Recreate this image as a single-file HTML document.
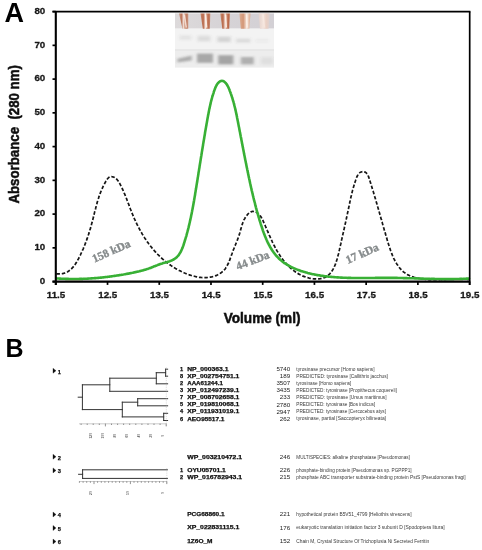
<!DOCTYPE html>
<html><head><meta charset="utf-8"><title>Figure</title>
<style>
html,body{margin:0;padding:0;background:#fff;}
body{width:482px;height:550px;overflow:hidden;font-family:"Liberation Sans",sans-serif;}
svg{display:block;}
text{font-family:"Liberation Sans",sans-serif;}
.b{font-weight:bold;}
.kda{font-family:"Liberation Serif",serif;font-weight:bold;font-size:11.5px;fill:#868b8c;stroke:#868b8c;stroke-width:0.35px;}
.acc{font-weight:bold;font-size:5.6px;fill:#111;stroke:#111;stroke-width:0.25px;}
.num{font-size:6.2px;fill:#222;}
.desc{font-size:4.6px;fill:#3a3a3a;}
.tk{font-weight:bold;font-size:9.5px;fill:#1a1a1a;stroke:#1a1a1a;stroke-width:0.3px;stroke-linejoin:round;}
</style></head><body>
<svg width="482" height="550" viewBox="0 0 482 550">
<defs>
<filter id="bl" x="-10%" y="-10%" width="120%" height="120%"><feGaussianBlur stdDeviation="0.7"/></filter>
<filter id="bl2" x="-10%" y="-10%" width="120%" height="120%"><feGaussianBlur stdDeviation="1.5 1.0"/></filter>
<filter id="bl3" x="-50%" y="-10%" width="200%" height="120%"><feGaussianBlur stdDeviation="0.45"/></filter>
<filter id="soft" x="0" y="0" width="482" height="550" filterUnits="userSpaceOnUse"><feGaussianBlur stdDeviation="0.55"/></filter>
</defs>
<rect width="482" height="550" fill="#fff"/>
<g filter="url(#soft)">

<text x="4.6" y="22.4" class="b" font-size="27" fill="#000">A</text>
<text x="5.5" y="356.6" class="b" font-size="25" fill="#000">B</text>
<g id="gel">
<defs>
<linearGradient id="tg" x1="0" x2="1" y1="0" y2="0"><stop offset="0" stop-color="#c98a6c"/><stop offset="0.28" stop-color="#b8684a"/><stop offset="0.5" stop-color="#f6e4da"/><stop offset="0.62" stop-color="#d08e70"/><stop offset="0.85" stop-color="#b9694b"/><stop offset="1" stop-color="#cf9a82"/></linearGradient>
<linearGradient id="tg2" x1="0" x2="1" y1="0" y2="0"><stop offset="0" stop-color="#dcae94"/><stop offset="0.35" stop-color="#d39676"/><stop offset="0.65" stop-color="#f6e6dc"/><stop offset="1" stop-color="#dba98e"/></linearGradient>
<linearGradient id="tg3" x1="0" x2="1" y1="0" y2="0"><stop offset="0" stop-color="#e4d2cc"/><stop offset="0.4" stop-color="#f3e4dc"/><stop offset="0.7" stop-color="#ead0c4"/><stop offset="1" stop-color="#ddd0cf"/></linearGradient>
<linearGradient id="bgt" x1="0" x2="1" y1="0" y2="0"><stop offset="0" stop-color="#dddadb"/><stop offset="0.5" stop-color="#d6d3d6"/><stop offset="1" stop-color="#d3d0d5"/></linearGradient>
</defs>
<rect x="174.9" y="13.4" width="99.1" height="15.3" fill="url(#bgt)"/>
<rect x="174.9" y="28.6" width="99.1" height="21.2" fill="#f3f3f3"/>
<rect x="174.9" y="49.6" width="99.1" height="18" fill="#ededed"/>
<rect x="174.9" y="49.4" width="99.1" height="1.1" fill="#e2e2e2"/>
<g filter="url(#bl)">
<path d="M179.0 13.4L188.3 13.4L188.3 28.8L182.5 28.8Z" fill="url(#tg)" opacity="0.85"/>
<path d="M200.5 13.4L210.4 13.4L209.8 28.8L202.8 28.8Z" fill="url(#tg)" opacity="1.00"/>
<path d="M220.3 13.4L230.1 13.4L229.3 28.8L222.3 28.8Z" fill="url(#tg)" opacity="1.00"/>
<path d="M239.4 13.4L250.5 13.4L249.3 28.8L240.8 28.8Z" fill="url(#tg2)" opacity="1.00"/>
<path d="M258.6 13.4L269.7 13.4L268.6 28.8L260.0 28.8Z" fill="url(#tg3)" opacity="1.00"/>
</g>
<g filter="url(#bl3)">
<path d="M184.3 14.5L186.3 27.6" stroke="#fff3ec" stroke-width="1.5" opacity="0.75"/>
<path d="M205.6 14.5L206.6 27.6" stroke="#fff3ec" stroke-width="1.5" opacity="0.90"/>
<path d="M225.6 14.5L226.3 27.6" stroke="#fff3ec" stroke-width="1.5" opacity="0.90"/>
<path d="M246.6 14.5L247.2 27.6" stroke="#fff3ec" stroke-width="1.5" opacity="0.70"/>
<path d="M263.0 14.5L264.5 27.6" stroke="#fff3ec" stroke-width="1.5" opacity="0.40"/>
</g>
<g filter="url(#bl2)">
<rect x="179.6" y="35.3" width="11.6" height="4.6" fill="#555" opacity="0.10"/>
<rect x="197.6" y="35.8" width="12.8" height="5.6" fill="#555" opacity="0.15"/>
<rect x="217.5" y="36.6" width="13.2" height="5.6" fill="#555" opacity="0.20"/>
<rect x="236.0" y="38.5" width="14.5" height="4.2" fill="#555" opacity="0.14"/>
<rect x="255.7" y="39.3" width="12.8" height="3.0" fill="#555" opacity="0.05"/>
<rect x="197.0" y="53.6" width="16.0" height="9.2" fill="#555" opacity="0.46"/>
<rect x="218.2" y="55.2" width="15.2" height="9.2" fill="#555" opacity="0.48"/>
<rect x="240.8" y="57.0" width="13.0" height="7.4" fill="#555" opacity="0.40"/>
<rect x="261.0" y="57.5" width="12.0" height="6.8" fill="#555" opacity="0.10"/>
<path d="M177.4 58.8L191.8 55.4L191.8 60.6L177.4 62.6Z" fill="#555" opacity="0.42"/>
</g>
<rect x="274" y="12.4" width="6" height="57" fill="#fff"/><rect x="168" y="12.4" width="6.9" height="57" fill="#fff"/>
</g>
<path d="M56.4 273.8C56.7 273.8 57.4 273.9 57.9 273.9C58.4 273.9 58.9 273.9 59.4 273.9C59.9 273.9 60.3 273.9 60.8 273.9C61.2 273.8 61.7 273.8 62.1 273.7C62.5 273.6 63.0 273.5 63.4 273.4C63.8 273.3 64.2 273.2 64.6 273.1C65.0 272.9 65.4 272.8 65.7 272.6C66.1 272.5 66.5 272.3 66.8 272.1C67.2 272.0 67.6 271.8 67.9 271.6C68.2 271.4 68.6 271.1 68.9 270.9C69.2 270.7 69.6 270.4 69.9 270.2C70.2 270.0 70.5 269.7 70.8 269.4C71.1 269.2 71.4 268.9 71.7 268.6C72.0 268.3 72.2 268.0 72.5 267.7C72.8 267.4 73.1 267.1 73.3 266.8C73.6 266.5 73.8 266.2 74.1 265.9C74.3 265.5 74.6 265.2 74.8 264.9C75.1 264.5 75.3 264.2 75.5 263.8C75.8 263.5 76.0 263.1 76.2 262.8C76.4 262.4 76.7 262.0 76.9 261.7C77.1 261.3 77.3 260.9 77.5 260.6C77.7 260.2 77.9 259.8 78.1 259.4C78.3 259.1 78.5 258.7 78.7 258.3C78.9 257.9 79.1 257.5 79.3 257.2C79.5 256.8 79.7 256.4 79.9 256.0C80.1 255.6 80.3 255.2 80.5 254.9C80.6 254.5 80.8 254.1 81.0 253.7C81.2 253.3 81.4 252.9 81.5 252.5C81.7 252.2 81.9 251.8 82.1 251.4C82.2 251.0 82.4 250.6 82.6 250.2C82.7 249.8 82.9 249.4 83.1 249.1C83.3 248.7 83.4 248.3 83.6 247.9C83.7 247.5 83.9 247.1 84.1 246.7C84.2 246.3 84.4 245.9 84.5 245.6C84.7 245.2 84.8 244.8 85.0 244.4C85.2 244.0 85.3 243.6 85.5 243.2C85.6 242.8 85.8 242.4 85.9 242.0C86.1 241.6 86.2 241.2 86.3 240.9C86.5 240.5 86.6 240.1 86.8 239.7C86.9 239.3 87.0 238.9 87.2 238.5C87.3 238.1 87.5 237.7 87.6 237.3C87.7 236.9 87.9 236.5 88.0 236.1C88.1 235.7 88.3 235.3 88.4 234.9C88.5 234.5 88.7 234.1 88.8 233.7C88.9 233.3 89.0 232.9 89.2 232.5C89.3 232.1 89.4 231.7 89.5 231.3C89.7 230.9 89.8 230.5 89.9 230.1C90.0 229.7 90.1 229.3 90.3 228.9C90.4 228.5 90.5 228.1 90.6 227.7C90.7 227.3 90.8 226.9 90.9 226.5C91.1 226.1 91.2 225.7 91.3 225.3C91.4 224.9 91.5 224.5 91.6 224.1C91.7 223.7 91.8 223.3 91.9 222.9C92.1 222.5 92.2 222.1 92.3 221.7C92.4 221.3 92.5 220.8 92.6 220.4C92.7 220.0 92.8 219.6 92.9 219.2C93.0 218.8 93.1 218.4 93.2 218.0C93.3 217.6 93.4 217.2 93.5 216.8C93.6 216.3 93.7 215.9 93.8 215.5C93.9 215.1 94.0 214.7 94.1 214.3C94.2 213.9 94.3 213.5 94.4 213.1C94.5 212.7 94.6 212.3 94.7 211.8C94.8 211.4 94.9 211.0 95.0 210.6C95.1 210.2 95.2 209.8 95.4 209.4C95.5 209.0 95.6 208.6 95.7 208.2C95.8 207.7 95.9 207.3 96.0 206.9C96.1 206.5 96.2 206.1 96.3 205.7C96.4 205.3 96.5 204.9 96.7 204.5C96.8 204.1 96.9 203.7 97.0 203.3C97.1 202.9 97.2 202.5 97.3 202.0C97.5 201.6 97.6 201.2 97.7 200.8C97.8 200.4 97.9 200.0 98.1 199.6C98.2 199.2 98.3 198.8 98.5 198.4C98.6 198.0 98.7 197.6 98.8 197.2C99.0 196.8 99.1 196.4 99.2 196.0C99.4 195.6 99.5 195.2 99.7 194.8C99.8 194.4 99.9 194.0 100.1 193.6C100.2 193.2 100.4 192.9 100.5 192.5C100.7 192.1 100.9 191.7 101.0 191.3C101.2 190.9 101.3 190.5 101.5 190.1C101.7 189.7 101.8 189.3 102.0 189.0C102.2 188.6 102.3 188.2 102.5 187.8C102.7 187.4 102.9 187.0 103.0 186.7C103.2 186.3 103.4 185.9 103.6 185.5C103.8 185.1 104.0 184.8 104.2 184.4C104.4 184.0 104.6 183.6 104.8 183.3C105.0 182.9 105.2 182.5 105.4 182.1C105.6 181.8 105.8 181.4 106.1 181.0C106.3 180.7 106.5 180.3 106.7 179.9C107.0 179.6 107.2 179.2 107.4 178.9C107.7 178.6 107.9 178.3 108.2 178.0C108.5 177.7 108.8 177.5 109.1 177.3C109.4 177.1 109.7 176.9 110.0 176.8C110.4 176.7 110.7 176.6 111.1 176.6C111.5 176.6 111.9 176.6 112.3 176.7C112.6 176.8 113.0 176.9 113.4 177.0C113.8 177.2 114.2 177.4 114.6 177.6C114.9 177.8 115.3 178.0 115.6 178.3C116.0 178.5 116.3 178.8 116.6 179.1C116.9 179.4 117.2 179.7 117.4 180.0C117.7 180.3 117.9 180.7 118.2 181.0C118.4 181.4 118.7 181.8 118.9 182.1C119.1 182.5 119.3 182.9 119.5 183.2C119.7 183.6 120.0 184.0 120.2 184.4C120.4 184.8 120.6 185.2 120.8 185.5C120.9 185.9 121.1 186.3 121.3 186.7C121.5 187.1 121.7 187.5 121.9 187.9C122.1 188.3 122.3 188.6 122.4 189.0C122.6 189.4 122.8 189.8 123.0 190.2C123.2 190.6 123.3 191.0 123.5 191.4C123.7 191.8 123.8 192.1 124.0 192.5C124.2 192.9 124.3 193.3 124.5 193.7C124.7 194.1 124.8 194.5 125.0 194.9C125.2 195.3 125.3 195.7 125.5 196.1C125.6 196.5 125.8 196.9 125.9 197.2C126.1 197.6 126.3 198.0 126.4 198.4C126.6 198.8 126.7 199.2 126.9 199.6C127.0 200.0 127.2 200.4 127.3 200.8C127.5 201.2 127.6 201.6 127.8 202.0C127.9 202.4 128.1 202.8 128.2 203.2C128.4 203.5 128.5 203.9 128.7 204.3C128.8 204.7 129.0 205.1 129.1 205.5C129.3 205.9 129.4 206.3 129.6 206.7C129.7 207.1 129.8 207.5 130.0 207.9C130.1 208.3 130.3 208.7 130.4 209.1C130.6 209.4 130.7 209.8 130.9 210.2C131.1 210.6 131.2 211.0 131.4 211.4C131.5 211.8 131.7 212.2 131.8 212.6C132.0 213.0 132.1 213.4 132.3 213.7C132.4 214.1 132.6 214.5 132.8 214.9C132.9 215.3 133.1 215.7 133.2 216.1C133.4 216.5 133.6 216.8 133.7 217.2C133.9 217.6 134.1 218.0 134.2 218.4C134.4 218.8 134.6 219.2 134.8 219.5C134.9 219.9 135.1 220.3 135.3 220.7C135.5 221.1 135.6 221.5 135.8 221.8C136.0 222.2 136.2 222.6 136.4 223.0C136.5 223.3 136.7 223.7 136.9 224.1C137.1 224.5 137.3 224.9 137.5 225.2C137.7 225.6 137.8 226.0 138.0 226.4C138.2 226.7 138.4 227.1 138.6 227.5C138.8 227.8 139.0 228.2 139.2 228.6C139.4 229.0 139.6 229.3 139.8 229.7C140.0 230.1 140.2 230.4 140.4 230.8C140.6 231.2 140.8 231.5 141.0 231.9C141.2 232.3 141.4 232.6 141.7 233.0C141.9 233.3 142.1 233.7 142.3 234.1C142.5 234.4 142.7 234.8 142.9 235.1C143.2 235.5 143.4 235.9 143.6 236.2C143.8 236.6 144.0 236.9 144.3 237.3C144.5 237.6 144.7 238.0 144.9 238.3C145.2 238.7 145.4 239.0 145.6 239.4C145.9 239.7 146.1 240.1 146.3 240.4C146.6 240.7 146.8 241.1 147.0 241.4C147.3 241.8 147.5 242.1 147.8 242.5C148.0 242.8 148.3 243.1 148.5 243.5C148.8 243.8 149.0 244.1 149.2 244.5C149.5 244.8 149.8 245.1 150.0 245.5C150.3 245.8 150.5 246.1 150.8 246.4C151.0 246.8 151.3 247.1 151.5 247.4C151.8 247.7 152.1 248.1 152.3 248.4C152.6 248.7 152.9 249.0 153.1 249.3C153.4 249.7 153.7 250.0 154.0 250.3C154.2 250.6 154.5 250.9 154.8 251.2C155.0 251.5 155.3 251.8 155.6 252.1C155.9 252.4 156.2 252.8 156.5 253.1C156.7 253.4 157.0 253.7 157.3 254.0C157.6 254.3 157.9 254.6 158.2 254.8C158.5 255.1 158.8 255.4 159.1 255.7C159.4 256.0 159.7 256.3 160.0 256.6C160.3 256.9 160.6 257.2 160.9 257.4C161.2 257.7 161.5 258.0 161.8 258.3C162.1 258.6 162.4 258.8 162.7 259.1C163.0 259.4 163.3 259.7 163.7 259.9C164.0 260.2 164.3 260.5 164.6 260.7C164.9 261.0 165.3 261.3 165.6 261.5C165.9 261.8 166.2 262.1 166.6 262.3C166.9 262.6 167.2 262.8 167.6 263.1C167.9 263.3 168.2 263.6 168.6 263.8C168.9 264.1 169.2 264.3 169.6 264.6C169.9 264.8 170.3 265.0 170.6 265.3C171.0 265.5 171.3 265.8 171.7 266.0C172.0 266.2 172.4 266.5 172.7 266.7C173.1 266.9 173.4 267.1 173.8 267.4C174.1 267.6 174.5 267.8 174.9 268.0C175.2 268.3 175.6 268.5 176.0 268.7C176.3 268.9 176.7 269.1 177.1 269.3C177.5 269.5 177.8 269.7 178.2 269.9C178.6 270.1 179.0 270.3 179.3 270.5C179.7 270.7 180.1 270.9 180.5 271.1C180.9 271.3 181.3 271.5 181.7 271.7C182.0 271.9 182.4 272.1 182.8 272.2C183.2 272.4 183.6 272.6 184.0 272.8C184.4 272.9 184.8 273.1 185.2 273.3C185.6 273.4 186.0 273.6 186.4 273.8C186.8 273.9 187.3 274.1 187.7 274.2C188.1 274.4 188.5 274.5 188.9 274.7C189.3 274.8 189.7 275.0 190.1 275.1C190.5 275.2 190.9 275.4 191.4 275.5C191.8 275.6 192.2 275.7 192.6 275.9C193.0 276.0 193.4 276.1 193.9 276.2C194.3 276.3 194.7 276.4 195.1 276.5C195.5 276.6 196.0 276.7 196.4 276.8C196.8 276.8 197.2 276.9 197.6 277.0C198.0 277.1 198.5 277.1 198.9 277.2C199.3 277.3 199.7 277.3 200.1 277.4C200.6 277.4 201.0 277.5 201.4 277.5C201.8 277.5 202.2 277.6 202.7 277.6C203.1 277.6 203.5 277.6 203.9 277.6C204.3 277.6 204.7 277.6 205.1 277.6C205.6 277.6 206.0 277.6 206.4 277.6C206.8 277.6 207.2 277.6 207.6 277.5C208.0 277.5 208.4 277.4 208.8 277.4C209.2 277.3 209.6 277.3 210.1 277.2C210.5 277.2 210.9 277.1 211.3 277.0C211.7 276.9 212.1 276.8 212.4 276.7C212.8 276.6 213.2 276.5 213.6 276.4C214.0 276.3 214.4 276.2 214.8 276.0C215.2 275.9 215.5 275.8 215.9 275.6C216.3 275.5 216.7 275.3 217.0 275.2C217.4 275.0 217.8 274.8 218.1 274.6C218.5 274.4 218.8 274.2 219.2 274.0C219.5 273.8 219.9 273.6 220.2 273.4C220.5 273.2 220.9 273.0 221.2 272.7C221.5 272.5 221.8 272.2 222.1 272.0C222.4 271.7 222.7 271.4 223.0 271.2C223.3 270.9 223.6 270.6 223.9 270.3C224.2 270.0 224.4 269.7 224.7 269.4C225.0 269.1 225.2 268.8 225.5 268.4C225.7 268.1 225.9 267.7 226.2 267.4C226.4 267.0 226.6 266.7 226.8 266.3C227.0 265.9 227.2 265.6 227.4 265.2C227.6 264.8 227.8 264.4 228.0 264.0C228.2 263.6 228.4 263.2 228.6 262.8C228.8 262.4 228.9 262.0 229.1 261.6C229.3 261.2 229.4 260.8 229.6 260.3C229.8 259.9 229.9 259.5 230.1 259.1C230.2 258.7 230.4 258.2 230.5 257.8C230.7 257.4 230.8 257.0 231.0 256.6C231.1 256.1 231.3 255.7 231.4 255.3C231.6 254.9 231.7 254.5 231.9 254.0C232.0 253.6 232.1 253.2 232.3 252.8C232.4 252.4 232.6 252.0 232.7 251.6C232.9 251.2 233.0 250.8 233.2 250.4C233.3 250.0 233.5 249.6 233.6 249.3C233.8 248.9 234.0 248.5 234.1 248.1C234.3 247.7 234.4 247.3 234.6 247.0C234.7 246.6 234.9 246.2 235.0 245.8C235.2 245.5 235.3 245.1 235.5 244.7C235.6 244.4 235.8 244.0 235.9 243.6C236.1 243.2 236.2 242.9 236.4 242.5C236.5 242.1 236.7 241.8 236.8 241.4C237.0 241.0 237.1 240.6 237.3 240.3C237.4 239.9 237.6 239.5 237.7 239.1C237.8 238.7 238.0 238.4 238.1 238.0C238.3 237.6 238.4 237.2 238.5 236.8C238.7 236.4 238.8 236.1 238.9 235.7C239.1 235.3 239.2 234.9 239.3 234.5C239.4 234.1 239.5 233.7 239.7 233.3C239.8 232.9 239.9 232.4 240.0 232.0C240.1 231.6 240.3 231.2 240.4 230.8C240.5 230.4 240.6 230.0 240.7 229.5C240.8 229.1 241.0 228.7 241.1 228.3C241.2 227.9 241.3 227.4 241.4 227.0C241.6 226.6 241.7 226.2 241.8 225.8C242.0 225.3 242.1 224.9 242.2 224.5C242.4 224.1 242.5 223.7 242.6 223.3C242.8 222.9 242.9 222.5 243.1 222.1C243.3 221.7 243.4 221.3 243.6 220.9C243.8 220.5 243.9 220.1 244.1 219.7C244.3 219.3 244.5 218.9 244.7 218.6C244.9 218.2 245.1 217.8 245.3 217.5C245.6 217.1 245.8 216.8 246.0 216.4C246.3 216.1 246.5 215.7 246.8 215.4C247.1 215.1 247.3 214.7 247.6 214.4C247.9 214.1 248.2 213.8 248.5 213.5C248.8 213.2 249.1 213.0 249.5 212.7C249.8 212.5 250.1 212.2 250.5 212.1C250.8 211.9 251.2 211.7 251.6 211.6C251.9 211.5 252.3 211.4 252.7 211.4C253.1 211.4 253.5 211.4 253.9 211.5C254.2 211.5 254.6 211.6 255.0 211.7C255.4 211.8 255.7 212.0 256.1 212.2C256.5 212.3 256.8 212.5 257.1 212.7C257.5 213.0 257.8 213.2 258.1 213.5C258.4 213.7 258.7 214.0 259.0 214.3C259.2 214.6 259.5 214.9 259.8 215.2C260.0 215.5 260.3 215.9 260.5 216.2C260.7 216.5 261.0 216.9 261.2 217.3C261.4 217.6 261.6 218.0 261.8 218.4C262.0 218.8 262.2 219.2 262.4 219.6C262.6 219.9 262.8 220.3 263.0 220.7C263.2 221.1 263.4 221.6 263.6 222.0C263.7 222.4 263.9 222.8 264.1 223.2C264.3 223.6 264.5 224.0 264.6 224.4C264.8 224.8 265.0 225.2 265.2 225.6C265.3 226.0 265.5 226.4 265.7 226.8C265.9 227.2 266.0 227.6 266.2 228.0C266.4 228.4 266.5 228.8 266.7 229.2C266.9 229.5 267.1 229.9 267.2 230.3C267.4 230.7 267.6 231.1 267.7 231.5C267.9 231.9 268.1 232.3 268.2 232.7C268.4 233.1 268.6 233.5 268.7 233.8C268.9 234.2 269.1 234.6 269.2 235.0C269.4 235.4 269.6 235.8 269.8 236.2C269.9 236.5 270.1 236.9 270.3 237.3C270.4 237.7 270.6 238.1 270.8 238.4C270.9 238.8 271.1 239.2 271.3 239.6C271.5 240.0 271.6 240.3 271.8 240.7C272.0 241.1 272.2 241.5 272.3 241.8C272.5 242.2 272.7 242.6 272.9 242.9C273.1 243.3 273.2 243.7 273.4 244.1C273.6 244.4 273.8 244.8 274.0 245.2C274.2 245.5 274.3 245.9 274.5 246.3C274.7 246.6 274.9 247.0 275.1 247.3C275.3 247.7 275.5 248.1 275.7 248.4C275.9 248.8 276.1 249.1 276.3 249.5C276.5 249.9 276.7 250.2 276.9 250.6C277.1 250.9 277.3 251.3 277.5 251.6C277.7 252.0 277.9 252.3 278.1 252.7C278.3 253.0 278.6 253.4 278.8 253.7C279.0 254.1 279.2 254.4 279.5 254.8C279.7 255.1 279.9 255.5 280.1 255.8C280.4 256.2 280.6 256.5 280.8 256.8C281.1 257.2 281.3 257.5 281.6 257.9C281.8 258.2 282.0 258.5 282.3 258.9C282.6 259.2 282.8 259.6 283.1 259.9C283.3 260.2 283.6 260.5 283.8 260.9C284.1 261.2 284.4 261.5 284.6 261.9C284.9 262.2 285.2 262.5 285.5 262.8C285.7 263.1 286.0 263.5 286.3 263.8C286.6 264.1 286.9 264.4 287.2 264.7C287.4 265.0 287.7 265.3 288.0 265.6C288.3 265.9 288.6 266.2 288.9 266.5C289.2 266.8 289.6 267.1 289.9 267.4C290.2 267.7 290.5 268.0 290.8 268.3C291.1 268.5 291.4 268.8 291.8 269.1C292.1 269.4 292.4 269.6 292.7 269.9C293.1 270.2 293.4 270.4 293.8 270.7C294.1 270.9 294.4 271.2 294.8 271.4C295.1 271.7 295.5 271.9 295.8 272.2C296.2 272.4 296.5 272.6 296.9 272.9C297.3 273.1 297.6 273.3 298.0 273.5C298.4 273.8 298.7 274.0 299.1 274.2C299.5 274.4 299.9 274.6 300.2 274.8C300.6 275.0 301.0 275.2 301.4 275.4C301.8 275.5 302.2 275.7 302.6 275.9C303.0 276.1 303.4 276.2 303.8 276.4C304.2 276.5 304.6 276.7 305.0 276.8C305.4 277.0 305.8 277.1 306.2 277.3C306.7 277.4 307.1 277.5 307.5 277.6C307.9 277.8 308.4 277.9 308.8 278.0C309.2 278.1 309.6 278.2 310.1 278.3C310.5 278.4 310.9 278.4 311.4 278.5C311.8 278.6 312.2 278.6 312.6 278.7C313.1 278.8 313.5 278.8 313.9 278.8C314.4 278.9 314.8 278.9 315.2 278.9C315.6 278.9 316.1 279.0 316.5 279.0C316.9 279.0 317.3 279.0 317.7 278.9C318.2 278.9 318.6 278.9 319.0 278.8C319.4 278.8 319.8 278.8 320.2 278.7C320.6 278.6 321.0 278.6 321.3 278.5C321.7 278.4 322.1 278.3 322.5 278.2C322.9 278.1 323.2 278.0 323.6 277.9C324.0 277.8 324.3 277.6 324.7 277.5C325.0 277.3 325.3 277.2 325.7 277.0C326.0 276.8 326.3 276.6 326.6 276.4C326.9 276.2 327.3 276.0 327.5 275.8C327.8 275.6 328.1 275.4 328.4 275.1C328.7 274.9 329.0 274.6 329.2 274.4C329.5 274.1 329.8 273.9 330.0 273.6C330.3 273.3 330.5 273.0 330.8 272.7C331.0 272.4 331.2 272.1 331.5 271.8C331.7 271.5 331.9 271.2 332.1 270.8C332.3 270.5 332.5 270.2 332.8 269.8C333.0 269.5 333.2 269.1 333.3 268.8C333.5 268.4 333.7 268.0 333.9 267.7C334.1 267.3 334.3 266.9 334.4 266.5C334.6 266.2 334.8 265.8 334.9 265.4C335.1 265.0 335.3 264.6 335.4 264.2C335.6 263.8 335.7 263.4 335.9 262.9C336.0 262.5 336.1 262.1 336.3 261.7C336.4 261.3 336.6 260.8 336.7 260.4C336.8 260.0 337.0 259.6 337.1 259.1C337.2 258.7 337.3 258.3 337.4 257.8C337.6 257.4 337.7 257.0 337.8 256.5C337.9 256.1 338.0 255.6 338.1 255.2C338.3 254.7 338.4 254.3 338.5 253.9C338.6 253.4 338.7 253.0 338.8 252.5C338.9 252.1 339.0 251.6 339.1 251.2C339.2 250.7 339.3 250.3 339.4 249.9C339.5 249.4 339.6 249.0 339.7 248.5C339.8 248.1 339.9 247.7 340.0 247.2C340.1 246.8 340.2 246.4 340.3 245.9C340.4 245.5 340.5 245.1 340.6 244.6C340.7 244.2 340.8 243.8 340.9 243.4C341.0 242.9 341.1 242.5 341.2 242.1C341.2 241.7 341.3 241.3 341.4 240.8C341.5 240.4 341.6 240.0 341.7 239.6C341.8 239.2 341.9 238.8 342.0 238.3C342.1 237.9 342.2 237.5 342.3 237.1C342.4 236.7 342.5 236.3 342.6 235.9C342.6 235.5 342.7 235.1 342.8 234.7C342.9 234.3 343.0 233.9 343.1 233.4C343.2 233.0 343.3 232.6 343.4 232.2C343.5 231.8 343.6 231.4 343.6 231.0C343.7 230.6 343.8 230.2 343.9 229.8C344.0 229.4 344.1 229.0 344.2 228.6C344.3 228.2 344.4 227.8 344.4 227.4C344.5 227.0 344.6 226.6 344.7 226.3C344.8 225.9 344.9 225.5 345.0 225.1C345.1 224.7 345.2 224.3 345.2 223.9C345.3 223.5 345.4 223.1 345.5 222.7C345.6 222.3 345.7 221.9 345.8 221.5C345.8 221.1 345.9 220.7 346.0 220.3C346.1 219.9 346.2 219.5 346.3 219.1C346.4 218.7 346.4 218.4 346.5 218.0C346.6 217.6 346.7 217.2 346.8 216.8C346.9 216.4 347.0 216.0 347.0 215.6C347.1 215.2 347.2 214.8 347.3 214.4C347.4 214.0 347.5 213.6 347.5 213.2C347.6 212.8 347.7 212.4 347.8 212.0C347.9 211.6 348.0 211.2 348.1 210.8C348.1 210.4 348.2 210.0 348.3 209.6C348.4 209.2 348.5 208.8 348.6 208.4C348.6 208.0 348.7 207.6 348.8 207.2C348.9 206.8 349.0 206.4 349.1 206.0C349.1 205.6 349.2 205.1 349.3 204.7C349.4 204.3 349.5 203.9 349.6 203.5C349.7 203.1 349.7 202.7 349.8 202.3C349.9 201.9 350.0 201.5 350.1 201.1C350.2 200.6 350.3 200.2 350.4 199.8C350.4 199.4 350.5 199.0 350.6 198.6C350.7 198.2 350.8 197.7 350.9 197.3C351.0 196.9 351.1 196.5 351.2 196.1C351.3 195.7 351.4 195.3 351.5 194.8C351.6 194.4 351.7 194.0 351.8 193.6C351.9 193.2 352.0 192.8 352.1 192.3C352.2 191.9 352.3 191.5 352.4 191.1C352.5 190.7 352.6 190.2 352.8 189.8C352.9 189.4 353.0 189.0 353.1 188.6C353.2 188.1 353.3 187.7 353.4 187.3C353.6 186.9 353.7 186.5 353.8 186.0C353.9 185.6 354.1 185.2 354.2 184.8C354.3 184.3 354.4 183.9 354.6 183.5C354.7 183.1 354.8 182.7 355.0 182.2C355.1 181.8 355.3 181.4 355.4 181.0C355.5 180.5 355.7 180.1 355.8 179.7C356.0 179.3 356.1 178.8 356.3 178.4C356.4 178.0 356.6 177.6 356.8 177.2C356.9 176.8 357.1 176.4 357.3 176.0C357.5 175.6 357.7 175.2 357.9 174.9C358.1 174.5 358.3 174.2 358.6 173.9C358.8 173.6 359.1 173.3 359.3 173.1C359.6 172.8 359.9 172.6 360.2 172.4C360.5 172.2 360.9 172.1 361.2 172.0C361.6 171.9 361.9 171.8 362.3 171.7C362.7 171.7 363.0 171.7 363.4 171.7C363.8 171.7 364.1 171.8 364.5 171.9C364.8 172.0 365.1 172.1 365.4 172.3C365.7 172.5 366.0 172.7 366.3 173.0C366.6 173.2 366.8 173.5 367.0 173.8C367.3 174.1 367.5 174.4 367.7 174.8C367.9 175.2 368.0 175.5 368.2 175.9C368.4 176.3 368.5 176.7 368.7 177.2C368.9 177.6 369.0 178.0 369.1 178.4C369.3 178.9 369.4 179.3 369.6 179.7C369.7 180.2 369.8 180.6 370.0 181.0C370.1 181.5 370.2 181.9 370.4 182.3C370.5 182.7 370.6 183.2 370.8 183.6C370.9 184.0 371.0 184.4 371.2 184.9C371.3 185.3 371.4 185.7 371.6 186.1C371.7 186.5 371.8 187.0 371.9 187.4C372.1 187.8 372.2 188.2 372.3 188.6C372.5 189.0 372.6 189.4 372.7 189.9C372.8 190.3 373.0 190.7 373.1 191.1C373.2 191.5 373.3 191.9 373.5 192.3C373.6 192.7 373.7 193.1 373.8 193.5C373.9 193.9 374.1 194.4 374.2 194.8C374.3 195.2 374.4 195.6 374.5 196.0C374.7 196.4 374.8 196.8 374.9 197.2C375.0 197.6 375.1 198.0 375.3 198.4C375.4 198.8 375.5 199.2 375.6 199.6C375.7 200.0 375.8 200.4 376.0 200.8C376.1 201.2 376.2 201.6 376.3 202.0C376.4 202.4 376.5 202.8 376.7 203.2C376.8 203.5 376.9 203.9 377.0 204.3C377.1 204.7 377.2 205.1 377.3 205.5C377.5 205.9 377.6 206.3 377.7 206.7C377.8 207.1 377.9 207.5 378.0 207.9C378.1 208.3 378.2 208.7 378.4 209.1C378.5 209.5 378.6 209.8 378.7 210.2C378.8 210.6 378.9 211.0 379.0 211.4C379.1 211.8 379.3 212.2 379.4 212.6C379.5 213.0 379.6 213.4 379.7 213.8C379.8 214.2 379.9 214.5 380.0 214.9C380.2 215.3 380.3 215.7 380.4 216.1C380.5 216.5 380.6 216.9 380.7 217.3C380.8 217.7 380.9 218.1 381.0 218.5C381.2 218.9 381.3 219.3 381.4 219.6C381.5 220.0 381.6 220.4 381.7 220.8C381.8 221.2 381.9 221.6 382.1 222.0C382.2 222.4 382.3 222.8 382.4 223.2C382.5 223.6 382.6 224.0 382.7 224.4C382.8 224.8 383.0 225.2 383.1 225.6C383.2 226.0 383.3 226.4 383.4 226.8C383.5 227.2 383.6 227.6 383.8 228.0C383.9 228.4 384.0 228.8 384.1 229.2C384.2 229.6 384.3 230.0 384.4 230.4C384.6 230.8 384.7 231.2 384.8 231.6C384.9 232.0 385.0 232.4 385.2 232.8C385.3 233.2 385.4 233.6 385.5 234.0C385.6 234.5 385.7 234.9 385.9 235.3C386.0 235.7 386.1 236.1 386.2 236.5C386.3 236.9 386.5 237.3 386.6 237.8C386.7 238.2 386.8 238.6 387.0 239.0C387.1 239.4 387.2 239.8 387.3 240.3C387.5 240.7 387.6 241.1 387.7 241.5C387.8 241.9 388.0 242.4 388.1 242.8C388.2 243.2 388.3 243.6 388.5 244.1C388.6 244.5 388.7 244.9 388.9 245.3C389.0 245.7 389.1 246.2 389.3 246.6C389.4 247.0 389.5 247.4 389.7 247.9C389.8 248.3 390.0 248.7 390.1 249.1C390.3 249.5 390.4 250.0 390.5 250.4C390.7 250.8 390.8 251.2 391.0 251.6C391.1 252.0 391.3 252.4 391.5 252.9C391.6 253.3 391.8 253.7 391.9 254.1C392.1 254.5 392.3 254.9 392.4 255.3C392.6 255.7 392.8 256.1 392.9 256.5C393.1 256.9 393.3 257.3 393.5 257.7C393.6 258.1 393.8 258.5 394.0 258.9C394.2 259.2 394.4 259.6 394.6 260.0C394.8 260.4 395.0 260.8 395.2 261.1C395.4 261.5 395.6 261.9 395.8 262.2C396.0 262.6 396.2 263.0 396.4 263.3C396.6 263.7 396.8 264.0 397.1 264.4C397.3 264.7 397.5 265.1 397.8 265.4C398.0 265.7 398.2 266.1 398.5 266.4C398.7 266.7 398.9 267.0 399.2 267.4C399.4 267.7 399.7 268.0 400.0 268.3C400.2 268.6 400.5 268.9 400.8 269.2C401.0 269.5 401.3 269.8 401.6 270.1C401.9 270.3 402.1 270.6 402.4 270.9C402.7 271.2 403.0 271.4 403.3 271.7C403.6 271.9 403.9 272.2 404.2 272.4C404.6 272.7 404.9 272.9 405.2 273.1C405.5 273.4 405.8 273.6 406.2 273.8C406.5 274.0 406.9 274.2 407.2 274.4C407.6 274.6 407.9 274.8 408.3 275.0C408.6 275.2 409.0 275.3 409.4 275.5C409.7 275.7 410.1 275.8 410.5 276.0C410.8 276.2 411.2 276.3 411.6 276.5C412.0 276.6 412.4 276.7 412.8 276.9C413.2 277.0 413.6 277.1 414.0 277.3C414.4 277.4 414.8 277.5 415.2 277.6C415.6 277.7 416.0 277.8 416.4 277.9C416.8 278.0 417.2 278.1 417.6 278.2C418.1 278.3 418.5 278.4 418.9 278.4C419.3 278.5 419.7 278.6 420.1 278.7C420.6 278.7 421.0 278.8 421.4 278.9C421.8 278.9 422.3 279.0 422.7 279.0C423.1 279.1 423.5 279.1 424.0 279.2C424.4 279.2 424.8 279.3 425.2 279.3C425.7 279.3 426.1 279.4 426.5 279.4C426.9 279.4 427.4 279.5 427.8 279.5C428.2 279.5 428.6 279.5 429.0 279.6C429.5 279.6 429.9 279.6 430.3 279.6C430.7 279.6 431.2 279.6 431.6 279.6C432.0 279.6 432.4 279.6 432.8 279.6C433.3 279.7 433.7 279.7 434.1 279.7C434.5 279.7 435.0 279.6 435.4 279.6C435.8 279.6 436.2 279.6 436.6 279.6C437.1 279.6 437.5 279.6 437.9 279.6C438.3 279.6 438.7 279.6 439.2 279.6C439.6 279.5 440.0 279.5 440.4 279.5C440.8 279.5 441.3 279.5 441.7 279.5C442.1 279.4 442.5 279.4 442.9 279.4C443.4 279.4 443.8 279.4 444.2 279.4C444.6 279.3 445.0 279.3 445.5 279.3C445.9 279.3 446.3 279.3 446.7 279.2C447.1 279.2 447.6 279.2 448.0 279.2C448.4 279.2 448.8 279.1 449.2 279.1C449.6 279.1 450.1 279.1 450.5 279.1C450.9 279.0 451.3 279.0 451.7 279.0C452.2 279.0 452.6 279.0 453.0 279.0C453.4 279.0 453.8 278.9 454.3 278.9C454.7 278.9 455.1 278.9 455.5 278.9C455.9 278.9 456.4 278.9 456.8 278.9C457.2 278.9 457.6 278.9 458.0 278.9C458.5 278.9 458.9 278.9 459.3 278.9C459.7 278.9 460.1 278.9 460.6 278.9C461.0 278.9 461.4 278.9 461.8 278.9C462.2 278.9 462.7 279.0 463.1 279.0C463.5 279.0 463.9 279.0 464.3 279.0C464.8 279.1 465.2 279.1 465.6 279.1C466.0 279.2 466.5 279.2 466.9 279.2C467.3 279.3 467.7 279.3 468.1 279.4C468.6 279.4 469.2 279.5 469.4 279.5" fill="none" stroke="#141414" stroke-width="1.7" stroke-dasharray="3.5 1.9"/>
<path d="M56.7 278.4C56.9 278.4 57.4 278.5 57.8 278.5C58.2 278.5 58.6 278.5 59.0 278.6C59.4 278.6 59.8 278.6 60.2 278.6C60.6 278.7 60.9 278.7 61.3 278.7C61.7 278.7 62.1 278.7 62.5 278.7C62.9 278.8 63.3 278.8 63.7 278.8C64.0 278.8 64.4 278.8 64.8 278.8C65.2 278.9 65.6 278.9 66.0 278.9C66.4 278.9 66.8 278.9 67.1 278.9C67.5 278.9 67.9 278.9 68.3 278.9C68.7 278.9 69.1 279.0 69.5 279.0C69.9 279.0 70.2 279.0 70.6 279.0C71.0 279.0 71.4 279.0 71.8 279.0C72.2 279.0 72.6 279.0 72.9 279.0C73.3 279.0 73.7 279.0 74.1 279.0C74.5 279.0 74.9 279.0 75.3 279.0C75.6 279.0 76.0 279.0 76.4 279.0C76.8 279.0 77.2 279.0 77.6 279.0C78.0 279.0 78.3 279.0 78.7 279.0C79.1 278.9 79.5 278.9 79.9 278.9C80.3 278.9 80.7 278.9 81.0 278.9C81.4 278.9 81.8 278.9 82.2 278.9C82.6 278.8 83.0 278.8 83.3 278.8C83.7 278.8 84.1 278.8 84.5 278.8C84.9 278.8 85.3 278.7 85.6 278.7C86.0 278.7 86.4 278.7 86.8 278.7C87.2 278.6 87.6 278.6 88.0 278.6C88.3 278.6 88.7 278.6 89.1 278.5C89.5 278.5 89.9 278.5 90.3 278.5C90.6 278.4 91.0 278.4 91.4 278.4C91.8 278.4 92.2 278.3 92.6 278.3C92.9 278.3 93.3 278.3 93.7 278.2C94.1 278.2 94.5 278.2 94.9 278.1C95.2 278.1 95.6 278.1 96.0 278.1C96.4 278.0 96.8 278.0 97.1 278.0C97.5 277.9 97.9 277.9 98.3 277.9C98.7 277.8 99.1 277.8 99.4 277.7C99.8 277.7 100.2 277.7 100.6 277.6C101.0 277.6 101.4 277.6 101.7 277.5C102.1 277.5 102.5 277.4 102.9 277.4C103.3 277.4 103.6 277.3 104.0 277.3C104.4 277.2 104.8 277.2 105.2 277.1C105.6 277.1 105.9 277.0 106.3 277.0C106.7 277.0 107.1 276.9 107.5 276.9C107.8 276.8 108.2 276.8 108.6 276.7C109.0 276.7 109.4 276.6 109.8 276.6C110.1 276.5 110.5 276.5 110.9 276.4C111.3 276.4 111.7 276.3 112.0 276.3C112.4 276.2 112.8 276.2 113.2 276.1C113.6 276.0 113.9 276.0 114.3 275.9C114.7 275.9 115.1 275.8 115.5 275.8C115.8 275.7 116.2 275.7 116.6 275.6C117.0 275.5 117.4 275.5 117.7 275.4C118.1 275.4 118.5 275.3 118.9 275.2C119.3 275.2 119.6 275.1 120.0 275.1C120.4 275.0 120.8 274.9 121.2 274.9C121.6 274.8 121.9 274.7 122.3 274.7C122.7 274.6 123.1 274.5 123.5 274.5C123.8 274.4 124.2 274.3 124.6 274.3C125.0 274.2 125.4 274.1 125.7 274.1C126.1 274.0 126.5 273.9 126.9 273.9C127.3 273.8 127.6 273.7 128.0 273.6C128.4 273.6 128.8 273.5 129.1 273.4C129.5 273.4 129.9 273.3 130.3 273.2C130.7 273.1 131.0 273.1 131.4 273.0C131.8 272.9 132.2 272.8 132.6 272.8C132.9 272.7 133.3 272.6 133.7 272.5C134.1 272.4 134.5 272.4 134.8 272.3C135.2 272.2 135.6 272.1 136.0 272.0C136.3 271.9 136.7 271.9 137.1 271.8C137.5 271.7 137.9 271.6 138.2 271.5C138.6 271.4 139.0 271.3 139.4 271.2C139.7 271.1 140.1 271.1 140.5 271.0C140.9 270.9 141.2 270.8 141.6 270.7C142.0 270.6 142.3 270.5 142.7 270.4C143.1 270.3 143.5 270.2 143.8 270.1C144.2 269.9 144.6 269.8 144.9 269.7C145.3 269.6 145.7 269.5 146.0 269.4C146.4 269.3 146.8 269.2 147.1 269.0C147.5 268.9 147.9 268.8 148.2 268.7C148.6 268.5 149.0 268.4 149.3 268.3C149.7 268.2 150.1 268.0 150.4 267.9C150.8 267.8 151.1 267.6 151.5 267.5C151.9 267.4 152.2 267.2 152.6 267.1C152.9 266.9 153.3 266.8 153.6 266.6C154.0 266.5 154.4 266.4 154.7 266.2C155.1 266.1 155.4 265.9 155.8 265.8C156.1 265.6 156.5 265.5 156.8 265.4C157.2 265.2 157.5 265.1 157.9 264.9C158.2 264.8 158.6 264.7 159.0 264.5C159.3 264.4 159.7 264.3 160.0 264.1C160.4 264.0 160.7 263.9 161.1 263.8C161.4 263.6 161.8 263.5 162.2 263.4C162.5 263.3 162.9 263.2 163.2 263.1C163.6 263.0 163.9 262.9 164.3 262.8C164.7 262.7 165.0 262.6 165.4 262.5C165.7 262.4 166.1 262.3 166.5 262.2C166.8 262.1 167.2 262.0 167.6 261.9C167.9 261.7 168.3 261.6 168.7 261.5C169.0 261.4 169.4 261.3 169.8 261.2C170.2 261.0 170.5 260.9 170.9 260.8C171.3 260.6 171.7 260.5 172.0 260.3C172.4 260.2 172.7 260.0 173.1 259.8C173.4 259.6 173.8 259.4 174.1 259.2C174.4 259.1 174.7 258.8 175.0 258.6C175.3 258.4 175.6 258.2 175.9 257.9C176.2 257.7 176.5 257.5 176.7 257.2C177.0 256.9 177.3 256.7 177.5 256.4C177.8 256.1 178.0 255.9 178.2 255.6C178.5 255.3 178.7 255.0 178.9 254.7C179.1 254.4 179.3 254.1 179.5 253.8C179.7 253.5 179.9 253.1 180.1 252.8C180.3 252.5 180.5 252.2 180.7 251.8C180.8 251.5 181.0 251.2 181.2 250.8C181.3 250.5 181.5 250.1 181.7 249.8C181.8 249.4 182.0 249.1 182.1 248.7C182.3 248.3 182.4 248.0 182.6 247.6C182.7 247.2 182.8 246.9 183.0 246.5C183.1 246.1 183.2 245.8 183.4 245.4C183.5 245.0 183.6 244.6 183.7 244.3C183.9 243.9 184.0 243.5 184.1 243.1C184.2 242.8 184.3 242.4 184.5 242.0C184.6 241.6 184.7 241.3 184.8 240.9C184.9 240.5 185.0 240.1 185.2 239.8C185.3 239.4 185.4 239.0 185.5 238.6C185.6 238.3 185.7 237.9 185.8 237.5C185.9 237.1 186.0 236.8 186.2 236.4C186.3 236.0 186.4 235.6 186.5 235.3C186.6 234.9 186.7 234.5 186.8 234.1C186.9 233.7 187.0 233.4 187.1 233.0C187.2 232.6 187.3 232.2 187.4 231.9C187.5 231.5 187.6 231.1 187.7 230.7C187.8 230.4 187.9 230.0 188.0 229.6C188.1 229.2 188.2 228.9 188.3 228.5C188.4 228.1 188.5 227.7 188.6 227.4C188.7 227.0 188.7 226.6 188.8 226.2C188.9 225.9 189.0 225.5 189.1 225.1C189.2 224.7 189.3 224.4 189.4 224.0C189.5 223.6 189.5 223.2 189.6 222.9C189.7 222.5 189.8 222.1 189.9 221.7C190.0 221.3 190.1 221.0 190.1 220.6C190.2 220.2 190.3 219.8 190.4 219.5C190.5 219.1 190.6 218.7 190.6 218.3C190.7 218.0 190.8 217.6 190.9 217.2C191.0 216.8 191.0 216.5 191.1 216.1C191.2 215.7 191.3 215.3 191.3 215.0C191.4 214.6 191.5 214.2 191.6 213.8C191.7 213.5 191.7 213.1 191.8 212.7C191.9 212.3 191.9 211.9 192.0 211.6C192.1 211.2 192.2 210.8 192.2 210.4C192.3 210.1 192.4 209.7 192.5 209.3C192.5 208.9 192.6 208.6 192.7 208.2C192.7 207.8 192.8 207.4 192.9 207.0C193.0 206.7 193.0 206.3 193.1 205.9C193.2 205.5 193.2 205.2 193.3 204.8C193.4 204.4 193.4 204.0 193.5 203.7C193.6 203.3 193.6 202.9 193.7 202.5C193.8 202.1 193.8 201.8 193.9 201.4C194.0 201.0 194.0 200.6 194.1 200.3C194.2 199.9 194.2 199.5 194.3 199.1C194.4 198.7 194.4 198.4 194.5 198.0C194.5 197.6 194.6 197.2 194.7 196.9C194.7 196.5 194.8 196.1 194.9 195.7C194.9 195.3 195.0 195.0 195.1 194.6C195.1 194.2 195.2 193.8 195.2 193.5C195.3 193.1 195.4 192.7 195.4 192.3C195.5 191.9 195.6 191.6 195.6 191.2C195.7 190.8 195.7 190.4 195.8 190.0C195.9 189.7 195.9 189.3 196.0 188.9C196.0 188.5 196.1 188.1 196.2 187.8C196.2 187.4 196.3 187.0 196.4 186.6C196.4 186.3 196.5 185.9 196.5 185.5C196.6 185.1 196.7 184.7 196.7 184.4C196.8 184.0 196.8 183.6 196.9 183.2C197.0 182.8 197.0 182.5 197.1 182.1C197.2 181.7 197.2 181.3 197.3 180.9C197.3 180.6 197.4 180.2 197.5 179.8C197.5 179.4 197.6 179.0 197.6 178.7C197.7 178.3 197.8 177.9 197.8 177.5C197.9 177.1 197.9 176.7 198.0 176.4C198.1 176.0 198.1 175.6 198.2 175.2C198.2 174.8 198.3 174.5 198.4 174.1C198.4 173.7 198.5 173.3 198.5 172.9C198.6 172.6 198.7 172.2 198.7 171.8C198.8 171.4 198.9 171.0 198.9 170.7C199.0 170.3 199.0 169.9 199.1 169.5C199.2 169.1 199.2 168.7 199.3 168.4C199.3 168.0 199.4 167.6 199.5 167.2C199.5 166.8 199.6 166.5 199.6 166.1C199.7 165.7 199.8 165.3 199.8 164.9C199.9 164.5 199.9 164.2 200.0 163.8C200.1 163.4 200.1 163.0 200.2 162.6C200.3 162.3 200.3 161.9 200.4 161.5C200.4 161.1 200.5 160.7 200.6 160.3C200.6 160.0 200.7 159.6 200.7 159.2C200.8 158.8 200.9 158.4 200.9 158.1C201.0 157.7 201.0 157.3 201.1 156.9C201.2 156.5 201.2 156.1 201.3 155.8C201.4 155.4 201.4 155.0 201.5 154.6C201.5 154.2 201.6 153.9 201.7 153.5C201.7 153.1 201.8 152.7 201.8 152.3C201.9 152.0 202.0 151.6 202.0 151.2C202.1 150.8 202.2 150.4 202.2 150.0C202.3 149.7 202.3 149.3 202.4 148.9C202.5 148.5 202.5 148.1 202.6 147.8C202.6 147.4 202.7 147.0 202.8 146.6C202.8 146.2 202.9 145.8 203.0 145.5C203.0 145.1 203.1 144.7 203.1 144.3C203.2 143.9 203.3 143.6 203.3 143.2C203.4 142.8 203.5 142.4 203.5 142.0C203.6 141.7 203.6 141.3 203.7 140.9C203.8 140.5 203.8 140.1 203.9 139.7C204.0 139.4 204.0 139.0 204.1 138.6C204.2 138.2 204.2 137.8 204.3 137.5C204.3 137.1 204.4 136.7 204.5 136.3C204.5 135.9 204.6 135.6 204.7 135.2C204.7 134.8 204.8 134.4 204.9 134.0C204.9 133.7 205.0 133.3 205.0 132.9C205.1 132.5 205.2 132.1 205.2 131.8C205.3 131.4 205.4 131.0 205.4 130.6C205.5 130.2 205.6 129.9 205.6 129.5C205.7 129.1 205.8 128.7 205.8 128.3C205.9 128.0 206.0 127.6 206.0 127.2C206.1 126.8 206.2 126.4 206.2 126.1C206.3 125.7 206.4 125.3 206.4 124.9C206.5 124.6 206.6 124.2 206.6 123.8C206.7 123.4 206.8 123.0 206.8 122.7C206.9 122.3 207.0 121.9 207.0 121.5C207.1 121.1 207.2 120.8 207.2 120.4C207.3 120.0 207.4 119.6 207.4 119.3C207.5 118.9 207.6 118.5 207.6 118.1C207.7 117.7 207.8 117.4 207.8 117.0C207.9 116.6 208.0 116.2 208.0 115.9C208.1 115.5 208.2 115.1 208.2 114.7C208.3 114.4 208.4 114.0 208.5 113.6C208.5 113.2 208.6 112.8 208.7 112.5C208.7 112.1 208.8 111.7 208.9 111.3C209.0 111.0 209.0 110.6 209.1 110.2C209.2 109.8 209.3 109.5 209.3 109.1C209.4 108.7 209.5 108.3 209.6 108.0C209.7 107.6 209.7 107.2 209.8 106.8C209.9 106.5 210.0 106.1 210.1 105.7C210.1 105.3 210.2 105.0 210.3 104.6C210.4 104.2 210.5 103.8 210.6 103.5C210.7 103.1 210.7 102.7 210.8 102.3C210.9 102.0 211.0 101.6 211.1 101.2C211.2 100.8 211.3 100.5 211.4 100.1C211.5 99.7 211.6 99.4 211.7 99.0C211.8 98.6 211.9 98.2 212.0 97.9C212.1 97.5 212.2 97.1 212.3 96.7C212.4 96.4 212.5 96.0 212.7 95.6C212.8 95.3 212.9 94.9 213.0 94.5C213.1 94.1 213.2 93.8 213.4 93.4C213.5 93.0 213.6 92.6 213.7 92.3C213.8 91.9 214.0 91.5 214.1 91.2C214.2 90.8 214.4 90.4 214.5 90.0C214.6 89.7 214.8 89.3 214.9 88.9C215.0 88.6 215.2 88.2 215.3 87.8C215.5 87.5 215.6 87.1 215.8 86.7C216.0 86.4 216.1 86.0 216.3 85.7C216.5 85.3 216.7 85.0 216.9 84.7C217.1 84.4 217.3 84.0 217.5 83.7C217.8 83.4 218.0 83.1 218.3 82.9C218.5 82.6 218.8 82.3 219.1 82.1C219.4 81.8 219.7 81.6 220.0 81.4C220.3 81.2 220.7 81.0 221.0 80.9C221.3 80.8 221.7 80.8 222.0 80.8C222.3 80.8 222.6 80.9 223.0 81.0C223.3 81.1 223.6 81.2 223.9 81.4C224.2 81.6 224.5 81.9 224.8 82.1C225.1 82.4 225.4 82.7 225.7 83.0C226.0 83.3 226.2 83.7 226.5 84.0C226.7 84.3 226.9 84.6 227.1 85.0C227.3 85.3 227.5 85.7 227.7 86.0C227.9 86.4 228.1 86.7 228.3 87.1C228.4 87.4 228.6 87.8 228.7 88.1C228.9 88.5 229.0 88.9 229.2 89.2C229.3 89.6 229.5 89.9 229.6 90.3C229.8 90.7 229.9 91.0 230.0 91.4C230.2 91.7 230.3 92.1 230.4 92.5C230.6 92.8 230.7 93.2 230.8 93.6C231.0 93.9 231.1 94.3 231.2 94.6C231.3 95.0 231.4 95.4 231.6 95.7C231.7 96.1 231.8 96.5 231.9 96.8C232.0 97.2 232.2 97.6 232.3 97.9C232.4 98.3 232.5 98.7 232.6 99.0C232.7 99.4 232.8 99.8 232.9 100.1C233.0 100.5 233.1 100.9 233.3 101.2C233.4 101.6 233.5 102.0 233.6 102.4C233.7 102.7 233.8 103.1 233.9 103.5C234.0 103.8 234.1 104.2 234.2 104.6C234.2 105.0 234.3 105.3 234.4 105.7C234.5 106.1 234.6 106.4 234.7 106.8C234.8 107.2 234.9 107.6 235.0 107.9C235.1 108.3 235.2 108.7 235.3 109.0C235.3 109.4 235.4 109.8 235.5 110.2C235.6 110.5 235.7 110.9 235.8 111.3C235.8 111.7 235.9 112.0 236.0 112.4C236.1 112.8 236.2 113.2 236.3 113.5C236.3 113.9 236.4 114.3 236.5 114.7C236.6 115.0 236.7 115.4 236.7 115.8C236.8 116.2 236.9 116.5 237.0 116.9C237.0 117.3 237.1 117.7 237.2 118.1C237.3 118.4 237.3 118.8 237.4 119.2C237.5 119.6 237.6 119.9 237.6 120.3C237.7 120.7 237.8 121.1 237.9 121.5C237.9 121.8 238.0 122.2 238.1 122.6C238.2 123.0 238.2 123.3 238.3 123.7C238.4 124.1 238.5 124.5 238.5 124.9C238.6 125.2 238.7 125.6 238.7 126.0C238.8 126.4 238.9 126.8 239.0 127.1C239.0 127.5 239.1 127.9 239.2 128.3C239.3 128.7 239.3 129.0 239.4 129.4C239.5 129.8 239.5 130.2 239.6 130.5C239.7 130.9 239.8 131.3 239.8 131.7C239.9 132.1 240.0 132.4 240.1 132.8C240.1 133.2 240.2 133.6 240.3 134.0C240.3 134.3 240.4 134.7 240.5 135.1C240.6 135.5 240.6 135.9 240.7 136.3C240.8 136.6 240.9 137.0 240.9 137.4C241.0 137.8 241.1 138.2 241.2 138.5C241.2 138.9 241.3 139.3 241.4 139.7C241.4 140.1 241.5 140.4 241.6 140.8C241.7 141.2 241.7 141.6 241.8 142.0C241.9 142.3 242.0 142.7 242.0 143.1C242.1 143.5 242.2 143.9 242.3 144.2C242.3 144.6 242.4 145.0 242.5 145.4C242.5 145.8 242.6 146.1 242.7 146.5C242.8 146.9 242.8 147.3 242.9 147.7C243.0 148.0 243.1 148.4 243.1 148.8C243.2 149.2 243.3 149.6 243.4 150.0C243.4 150.3 243.5 150.7 243.6 151.1C243.7 151.5 243.7 151.9 243.8 152.2C243.9 152.6 244.0 153.0 244.0 153.4C244.1 153.8 244.2 154.1 244.2 154.5C244.3 154.9 244.4 155.3 244.5 155.7C244.5 156.0 244.6 156.4 244.7 156.8C244.8 157.2 244.8 157.5 244.9 157.9C245.0 158.3 245.1 158.7 245.1 159.1C245.2 159.4 245.3 159.8 245.4 160.2C245.4 160.6 245.5 161.0 245.6 161.3C245.7 161.7 245.8 162.1 245.8 162.5C245.9 162.9 246.0 163.2 246.1 163.6C246.1 164.0 246.2 164.4 246.3 164.7C246.4 165.1 246.4 165.5 246.5 165.9C246.6 166.3 246.7 166.6 246.7 167.0C246.8 167.4 246.9 167.8 247.0 168.1C247.0 168.5 247.1 168.9 247.2 169.3C247.3 169.6 247.4 170.0 247.4 170.4C247.5 170.8 247.6 171.1 247.7 171.5C247.7 171.9 247.8 172.3 247.9 172.7C248.0 173.0 248.1 173.4 248.1 173.8C248.2 174.2 248.3 174.5 248.4 174.9C248.4 175.3 248.5 175.6 248.6 176.0C248.7 176.4 248.8 176.8 248.8 177.1C248.9 177.5 249.0 177.9 249.1 178.3C249.2 178.6 249.2 179.0 249.3 179.4C249.4 179.8 249.5 180.1 249.6 180.5C249.6 180.9 249.7 181.3 249.8 181.6C249.9 182.0 250.0 182.4 250.0 182.7C250.1 183.1 250.2 183.5 250.3 183.9C250.4 184.2 250.5 184.6 250.5 185.0C250.6 185.4 250.7 185.7 250.8 186.1C250.9 186.5 250.9 186.8 251.0 187.2C251.1 187.6 251.2 188.0 251.3 188.3C251.4 188.7 251.5 189.1 251.5 189.5C251.6 189.8 251.7 190.2 251.8 190.6C251.9 190.9 252.0 191.3 252.1 191.7C252.1 192.1 252.2 192.4 252.3 192.8C252.4 193.2 252.5 193.5 252.6 193.9C252.7 194.3 252.8 194.7 252.8 195.0C252.9 195.4 253.0 195.8 253.1 196.1C253.2 196.5 253.3 196.9 253.4 197.3C253.5 197.6 253.6 198.0 253.7 198.4C253.7 198.7 253.8 199.1 253.9 199.5C254.0 199.9 254.1 200.2 254.2 200.6C254.3 201.0 254.4 201.3 254.5 201.7C254.6 202.1 254.7 202.4 254.8 202.8C254.9 203.2 255.0 203.6 255.1 203.9C255.1 204.3 255.2 204.7 255.3 205.0C255.4 205.4 255.5 205.8 255.6 206.2C255.7 206.5 255.8 206.9 255.9 207.3C256.0 207.6 256.1 208.0 256.2 208.4C256.3 208.8 256.4 209.1 256.5 209.5C256.6 209.9 256.7 210.3 256.8 210.6C256.9 211.0 257.0 211.4 257.1 211.7C257.2 212.1 257.4 212.5 257.5 212.9C257.6 213.2 257.7 213.6 257.8 214.0C257.9 214.3 258.0 214.7 258.1 215.1C258.2 215.5 258.3 215.8 258.4 216.2C258.5 216.6 258.6 217.0 258.7 217.3C258.9 217.7 259.0 218.1 259.1 218.4C259.2 218.8 259.3 219.2 259.4 219.6C259.5 219.9 259.6 220.3 259.7 220.7C259.9 221.1 260.0 221.4 260.1 221.8C260.2 222.2 260.3 222.6 260.4 222.9C260.6 223.3 260.7 223.7 260.8 224.1C260.9 224.4 261.0 224.8 261.1 225.2C261.3 225.5 261.4 225.9 261.5 226.3C261.6 226.7 261.8 227.0 261.9 227.4C262.0 227.8 262.1 228.2 262.3 228.5C262.4 228.9 262.5 229.3 262.6 229.7C262.8 230.0 262.9 230.4 263.0 230.8C263.1 231.1 263.3 231.5 263.4 231.9C263.5 232.3 263.7 232.6 263.8 233.0C264.0 233.4 264.1 233.7 264.2 234.1C264.4 234.5 264.5 234.8 264.7 235.2C264.8 235.6 264.9 235.9 265.1 236.3C265.2 236.7 265.4 237.0 265.5 237.4C265.7 237.7 265.8 238.1 266.0 238.5C266.1 238.8 266.3 239.2 266.4 239.5C266.6 239.9 266.8 240.3 266.9 240.6C267.1 241.0 267.2 241.3 267.4 241.7C267.6 242.0 267.7 242.4 267.9 242.7C268.1 243.1 268.2 243.4 268.4 243.7C268.6 244.1 268.8 244.4 268.9 244.8C269.1 245.1 269.3 245.4 269.5 245.8C269.7 246.1 269.9 246.5 270.0 246.8C270.2 247.1 270.4 247.5 270.6 247.8C270.8 248.1 271.0 248.4 271.2 248.8C271.4 249.1 271.6 249.4 271.8 249.7C272.0 250.0 272.2 250.4 272.4 250.7C272.6 251.0 272.9 251.3 273.1 251.6C273.3 251.9 273.5 252.2 273.7 252.5C273.9 252.8 274.2 253.1 274.4 253.4C274.6 253.7 274.9 254.0 275.1 254.3C275.3 254.6 275.6 254.9 275.8 255.2C276.0 255.5 276.3 255.7 276.5 256.0C276.8 256.3 277.0 256.6 277.3 256.9C277.5 257.1 277.8 257.4 278.1 257.7C278.3 257.9 278.6 258.2 278.9 258.5C279.1 258.7 279.4 259.0 279.7 259.2C280.0 259.5 280.2 259.7 280.5 260.0C280.8 260.2 281.1 260.5 281.4 260.7C281.7 261.0 282.0 261.2 282.3 261.4C282.6 261.7 282.9 261.9 283.2 262.1C283.5 262.3 283.8 262.6 284.1 262.8C284.4 263.0 284.7 263.2 285.1 263.4C285.4 263.6 285.7 263.8 286.0 264.0C286.4 264.2 286.7 264.4 287.0 264.6C287.3 264.8 287.7 265.0 288.0 265.2C288.3 265.4 288.7 265.6 289.0 265.8C289.4 266.0 289.7 266.2 290.1 266.3C290.4 266.5 290.7 266.7 291.1 266.9C291.4 267.0 291.8 267.2 292.1 267.4C292.5 267.5 292.9 267.7 293.2 267.9C293.6 268.0 293.9 268.2 294.3 268.4C294.7 268.5 295.0 268.7 295.4 268.8C295.7 269.0 296.1 269.1 296.5 269.3C296.8 269.4 297.2 269.5 297.6 269.7C297.9 269.8 298.3 270.0 298.7 270.1C299.0 270.2 299.4 270.4 299.8 270.5C300.2 270.6 300.5 270.8 300.9 270.9C301.3 271.0 301.7 271.1 302.0 271.3C302.4 271.4 302.8 271.5 303.1 271.6C303.5 271.7 303.9 271.8 304.3 271.9C304.6 272.1 305.0 272.2 305.4 272.3C305.8 272.4 306.1 272.5 306.5 272.6C306.9 272.7 307.3 272.8 307.6 272.9C308.0 273.0 308.4 273.1 308.8 273.2C309.1 273.3 309.5 273.4 309.9 273.5C310.3 273.6 310.6 273.7 311.0 273.7C311.4 273.8 311.8 273.9 312.1 274.0C312.5 274.1 312.9 274.2 313.3 274.2C313.7 274.3 314.0 274.4 314.4 274.5C314.8 274.6 315.2 274.6 315.5 274.7C315.9 274.8 316.3 274.8 316.7 274.9C317.0 275.0 317.4 275.1 317.8 275.1C318.2 275.2 318.6 275.2 318.9 275.3C319.3 275.4 319.7 275.4 320.1 275.5C320.5 275.6 320.8 275.6 321.2 275.7C321.6 275.7 322.0 275.8 322.3 275.8C322.7 275.9 323.1 275.9 323.5 276.0C323.9 276.1 324.2 276.1 324.6 276.2C325.0 276.2 325.4 276.3 325.8 276.3C326.1 276.3 326.5 276.4 326.9 276.4C327.3 276.5 327.7 276.5 328.0 276.6C328.4 276.6 328.8 276.6 329.2 276.7C329.6 276.7 329.9 276.8 330.3 276.8C330.7 276.8 331.1 276.9 331.5 276.9C331.9 276.9 332.2 277.0 332.6 277.0C333.0 277.0 333.4 277.1 333.8 277.1C334.1 277.1 334.5 277.2 334.9 277.2C335.3 277.2 335.7 277.3 336.1 277.3C336.4 277.3 336.8 277.3 337.2 277.4C337.6 277.4 338.0 277.4 338.4 277.4C338.7 277.5 339.1 277.5 339.5 277.5C339.9 277.5 340.3 277.6 340.7 277.6C341.0 277.6 341.4 277.6 341.8 277.6C342.2 277.7 342.6 277.7 343.0 277.7C343.3 277.7 343.7 277.7 344.1 277.7C344.5 277.8 344.9 277.8 345.3 277.8C345.6 277.8 346.0 277.8 346.4 277.8C346.8 277.8 347.2 277.8 347.6 277.9C347.9 277.9 348.3 277.9 348.7 277.9C349.1 277.9 349.5 277.9 349.9 277.9C350.3 277.9 350.6 277.9 351.0 277.9C351.4 278.0 351.8 278.0 352.2 278.0C352.6 278.0 352.9 278.0 353.3 278.0C353.7 278.0 354.1 278.0 354.5 278.0C354.9 278.0 355.3 278.0 355.6 278.0C356.0 278.0 356.4 278.0 356.8 278.0C357.2 278.0 357.6 278.0 358.0 278.0C358.3 278.0 358.7 278.0 359.1 278.0C359.5 278.0 359.9 278.0 360.3 278.0C360.7 278.0 361.0 278.0 361.4 278.0C361.8 278.0 362.2 278.0 362.6 278.0C363.0 278.0 363.4 278.0 363.8 278.0C364.1 278.0 364.5 278.0 364.9 278.0C365.3 278.0 365.7 278.0 366.1 278.0C366.5 278.0 366.8 278.0 367.2 278.0C367.6 278.0 368.0 278.0 368.4 278.0C368.8 278.0 369.2 278.0 369.5 278.0C369.9 278.0 370.3 278.0 370.7 278.0C371.1 278.0 371.5 278.0 371.9 278.0C372.3 278.0 372.6 278.0 373.0 278.0C373.4 278.0 373.8 278.0 374.2 278.0C374.6 278.0 375.0 277.9 375.3 277.9C375.7 277.9 376.1 277.9 376.5 277.9C376.9 277.9 377.3 277.9 377.7 277.9C378.1 277.9 378.4 277.9 378.8 277.9C379.2 277.9 379.6 277.9 380.0 277.9C380.4 277.9 380.8 277.9 381.1 277.9C381.5 277.9 381.9 277.9 382.3 277.9C382.7 277.9 383.1 277.9 383.5 277.9C383.8 277.9 384.2 277.9 384.6 277.9C385.0 277.9 385.4 277.9 385.8 277.9C386.2 277.9 386.6 277.9 386.9 277.9C387.3 277.9 387.7 277.9 388.1 277.9C388.5 277.9 388.9 277.9 389.3 277.9C389.6 277.9 390.0 277.9 390.4 277.9C390.8 277.9 391.2 277.9 391.6 277.9C392.0 277.9 392.3 277.9 392.7 277.9C393.1 277.9 393.5 277.9 393.9 277.9C394.3 277.9 394.7 277.9 395.0 277.9C395.4 277.9 395.8 277.9 396.2 277.9C396.6 277.9 397.0 277.9 397.4 277.9C397.7 278.0 398.1 278.0 398.5 278.0C398.9 278.0 399.3 278.0 399.7 278.0C400.1 278.0 400.4 278.0 400.8 278.0C401.2 278.0 401.6 278.0 402.0 278.0C402.4 278.0 402.8 278.0 403.1 278.1C403.5 278.1 403.9 278.1 404.3 278.1C404.7 278.1 405.1 278.1 405.4 278.1C405.8 278.1 406.2 278.1 406.6 278.1C407.0 278.2 407.4 278.2 407.8 278.2C408.1 278.2 408.5 278.2 408.9 278.2C409.3 278.2 409.7 278.2 410.1 278.2C410.5 278.3 410.8 278.3 411.2 278.3C411.6 278.3 412.0 278.3 412.4 278.3C412.8 278.3 413.1 278.3 413.5 278.3C413.9 278.4 414.3 278.4 414.7 278.4C415.1 278.4 415.5 278.4 415.8 278.4C416.2 278.4 416.6 278.4 417.0 278.4C417.4 278.5 417.8 278.5 418.1 278.5C418.5 278.5 418.9 278.5 419.3 278.5C419.7 278.5 420.1 278.5 420.5 278.6C420.8 278.6 421.2 278.6 421.6 278.6C422.0 278.6 422.4 278.6 422.8 278.6C423.1 278.6 423.5 278.7 423.9 278.7C424.3 278.7 424.7 278.7 425.1 278.7C425.5 278.7 425.8 278.7 426.2 278.7C426.6 278.7 427.0 278.8 427.4 278.8C427.8 278.8 428.1 278.8 428.5 278.8C428.9 278.8 429.3 278.8 429.7 278.8C430.1 278.8 430.5 278.8 430.8 278.9C431.2 278.9 431.6 278.9 432.0 278.9C432.4 278.9 432.8 278.9 433.1 278.9C433.5 278.9 433.9 278.9 434.3 278.9C434.7 278.9 435.1 279.0 435.5 279.0C435.8 279.0 436.2 279.0 436.6 279.0C437.0 279.0 437.4 279.0 437.8 279.0C438.2 279.0 438.5 279.0 438.9 279.0C439.3 279.0 439.7 279.0 440.1 279.0C440.5 279.0 440.8 279.1 441.2 279.1C441.6 279.1 442.0 279.1 442.4 279.1C442.8 279.1 443.2 279.1 443.5 279.1C443.9 279.1 444.3 279.1 444.7 279.1C445.1 279.1 445.5 279.1 445.9 279.1C446.2 279.1 446.6 279.1 447.0 279.1C447.4 279.1 447.8 279.1 448.2 279.1C448.6 279.1 448.9 279.1 449.3 279.1C449.7 279.1 450.1 279.1 450.5 279.1C450.9 279.1 451.2 279.1 451.6 279.1C452.0 279.1 452.4 279.1 452.8 279.1C453.2 279.1 453.6 279.1 453.9 279.1C454.3 279.1 454.7 279.0 455.1 279.0C455.5 279.0 455.9 279.0 456.3 279.0C456.7 279.0 457.0 279.0 457.4 279.0C457.8 279.0 458.2 279.0 458.6 279.0C459.0 279.0 459.4 278.9 459.7 278.9C460.1 278.9 460.5 278.9 460.9 278.9C461.3 278.9 461.7 278.9 462.1 278.9C462.4 278.8 462.8 278.8 463.2 278.8C463.6 278.8 464.0 278.8 464.4 278.8C464.8 278.7 465.2 278.7 465.5 278.7C465.9 278.7 466.3 278.7 466.7 278.6C467.1 278.6 467.5 278.6 467.9 278.6C468.2 278.6 468.8 278.5 469.0 278.5" fill="none" stroke="#38b035" stroke-width="2.6" stroke-linejoin="round" stroke-linecap="round"/>
<path d="M52.50 11.60L470.40 11.60" stroke="#000" stroke-width="1.75"/>
<path d="M55.80 11.60L55.80 284.90" stroke="#000" stroke-width="2.1"/>
<path d="M52.50 281.60L470.20 281.60" stroke="#000" stroke-width="2.1"/>
<path d="M469.70 11.60L469.70 284.90" stroke="#000" stroke-width="1.7"/>
<path d="M52.50 281.60L55.80 281.60" stroke="#000" stroke-width="1.7"/>
<text transform="translate(45.3 283.90) scale(1.03 1)" text-anchor="end" class="tk">0</text>
<path d="M52.50 247.85L55.80 247.85" stroke="#000" stroke-width="1.7"/>
<text transform="translate(45.3 250.15) scale(1.03 1)" text-anchor="end" class="tk">10</text>
<path d="M52.50 214.10L55.80 214.10" stroke="#000" stroke-width="1.7"/>
<text transform="translate(45.3 216.40) scale(1.03 1)" text-anchor="end" class="tk">20</text>
<path d="M52.50 180.35L55.80 180.35" stroke="#000" stroke-width="1.7"/>
<text transform="translate(45.3 182.65) scale(1.03 1)" text-anchor="end" class="tk">30</text>
<path d="M52.50 146.60L55.80 146.60" stroke="#000" stroke-width="1.7"/>
<text transform="translate(45.3 148.90) scale(1.03 1)" text-anchor="end" class="tk">40</text>
<path d="M52.50 112.85L55.80 112.85" stroke="#000" stroke-width="1.7"/>
<text transform="translate(45.3 115.15) scale(1.03 1)" text-anchor="end" class="tk">50</text>
<path d="M52.50 79.10L55.80 79.10" stroke="#000" stroke-width="1.7"/>
<text transform="translate(45.3 81.40) scale(1.03 1)" text-anchor="end" class="tk">60</text>
<path d="M52.50 45.35L55.80 45.35" stroke="#000" stroke-width="1.7"/>
<text transform="translate(45.3 47.65) scale(1.03 1)" text-anchor="end" class="tk">70</text>
<path d="M52.50 11.60L55.80 11.60" stroke="#000" stroke-width="1.7"/>
<text transform="translate(45.3 13.90) scale(1.03 1)" text-anchor="end" class="tk">80</text>
<path d="M55.80 281.60L55.80 284.90" stroke="#000" stroke-width="1.7"/>
<text transform="translate(56.00 298.4) scale(1.03 1)" text-anchor="middle" class="tk">11.5</text>
<path d="M107.53 281.60L107.53 284.90" stroke="#000" stroke-width="1.7"/>
<text transform="translate(107.73 298.4) scale(1.03 1)" text-anchor="middle" class="tk">12.5</text>
<path d="M159.25 281.60L159.25 284.90" stroke="#000" stroke-width="1.7"/>
<text transform="translate(159.45 298.4) scale(1.03 1)" text-anchor="middle" class="tk">13.5</text>
<path d="M210.98 281.60L210.98 284.90" stroke="#000" stroke-width="1.7"/>
<text transform="translate(211.18 298.4) scale(1.03 1)" text-anchor="middle" class="tk">14.5</text>
<path d="M262.70 281.60L262.70 284.90" stroke="#000" stroke-width="1.7"/>
<text transform="translate(262.90 298.4) scale(1.03 1)" text-anchor="middle" class="tk">15.5</text>
<path d="M314.43 281.60L314.43 284.90" stroke="#000" stroke-width="1.7"/>
<text transform="translate(314.62 298.4) scale(1.03 1)" text-anchor="middle" class="tk">16.5</text>
<path d="M366.15 281.60L366.15 284.90" stroke="#000" stroke-width="1.7"/>
<text transform="translate(366.35 298.4) scale(1.03 1)" text-anchor="middle" class="tk">17.5</text>
<path d="M417.88 281.60L417.88 284.90" stroke="#000" stroke-width="1.7"/>
<text transform="translate(418.07 298.4) scale(1.03 1)" text-anchor="middle" class="tk">18.5</text>
<path d="M469.60 281.60L469.60 284.90" stroke="#000" stroke-width="1.7"/>
<text transform="translate(469.80 298.4) scale(1.03 1)" text-anchor="middle" class="tk">19.5</text>
<text transform="translate(18.9 203.6) rotate(-90)" class="b" font-size="14" fill="#111" stroke="#111" stroke-width="0.5" textLength="138.5" lengthAdjust="spacingAndGlyphs" style="white-space:pre">Absorbance  (280 nm)</text>
<text x="223.7" y="323.2" class="b" font-size="14" fill="#111" stroke="#111" stroke-width="0.5" textLength="76.8" lengthAdjust="spacingAndGlyphs">Volume (ml)</text>
<text transform="translate(94.2 262.8) rotate(-24)" class="kda">158 kDa</text>
<text transform="translate(237.8 270.3) rotate(-21.5)" class="kda">44 kDa</text>
<text transform="translate(347.7 263.9) rotate(-23.5)" class="kda">17 kDa</text>
<path d="M53.0 368.2L56.0 370.7L53.0 373.2Z" fill="#111" stroke="#111" stroke-width="0.3" stroke-linejoin="round"/>
<text x="57.7" y="373.6" class="b" font-size="5.7" fill="#111" stroke="#111" stroke-width="0.25">1</text>
<path d="M53.0 454.2L56.0 456.7L53.0 459.2Z" fill="#111" stroke="#111" stroke-width="0.3" stroke-linejoin="round"/>
<text x="57.7" y="459.6" class="b" font-size="5.7" fill="#111" stroke="#111" stroke-width="0.25">2</text>
<path d="M53.0 467.9L56.0 470.4L53.0 472.9Z" fill="#111" stroke="#111" stroke-width="0.3" stroke-linejoin="round"/>
<text x="57.7" y="473.2" class="b" font-size="5.7" fill="#111" stroke="#111" stroke-width="0.25">3</text>
<path d="M53.0 512.0L56.0 514.5L53.0 517.0Z" fill="#111" stroke="#111" stroke-width="0.3" stroke-linejoin="round"/>
<text x="57.7" y="517.4" class="b" font-size="5.7" fill="#111" stroke="#111" stroke-width="0.25">4</text>
<path d="M53.0 525.5L56.0 528.0L53.0 530.5Z" fill="#111" stroke="#111" stroke-width="0.3" stroke-linejoin="round"/>
<text x="57.7" y="530.9" class="b" font-size="5.7" fill="#111" stroke="#111" stroke-width="0.25">5</text>
<path d="M53.0 539.0L56.0 541.5L53.0 544.0Z" fill="#111" stroke="#111" stroke-width="0.3" stroke-linejoin="round"/>
<text x="57.7" y="544.4" class="b" font-size="5.7" fill="#111" stroke="#111" stroke-width="0.25">6</text>
<path d="M165.6 369.2L167.6 369.2M165.6 376.2L167.6 376.2M165.6 369.2L165.6 376.2M156.3 372.7L165.6 372.7M156.3 383.8L167.6 383.8M156.3 372.7L156.3 383.8M109.8 378.2L156.3 378.2M109.8 391.3L167.6 391.3M109.8 378.2L109.8 391.3M82.4 384.8L109.8 384.8M137.7 398.7L167.6 398.7M137.7 405.8L167.6 405.8M137.7 398.7L137.7 405.8M122.3 402.2L137.7 402.2M163.7 413.3L167.6 413.3M163.7 420.5L167.6 420.5M163.7 413.3L163.7 420.5M122.3 416.9L163.7 416.9M122.3 402.2L122.3 416.9M82.4 409.6L122.3 409.6M82.4 384.8L82.4 409.6M78.2 397.2L82.4 397.2M82.6 469.8L167.4 469.8M82.6 478.4L167.4 478.4M82.6 469.8L82.6 478.4M78.6 474.3L82.6 474.3" stroke="#333" stroke-width="1.0" fill="none" stroke-linecap="square"/>
<path d="M166.3 367.5L166.3 426M166.8 468L166.8 484" stroke="#aaa" stroke-width="0.5" stroke-dasharray="0.8 1.0"/>
<path d="M79 423.8L166.3 423.8" stroke="#999" stroke-width="0.5"/>
<path d="M166.2 423.6L166.2 426.4M160.1 423.6L160.1 425.0M154.0 423.6L154.0 425.0M148.0 423.6L148.0 425.0M141.9 423.6L141.9 425.0M135.8 423.6L135.8 425.0M129.7 423.6L129.7 425.0M123.6 423.6L123.6 425.0M117.6 423.6L117.6 425.0M111.5 423.6L111.5 425.0M105.4 423.6L105.4 426.4M99.3 423.6L99.3 425.0M93.2 423.6L93.2 425.0M87.2 423.6L87.2 425.0M81.1 423.6L81.1 425.0" stroke="#666" stroke-width="0.7"/>
<text transform="translate(163.8 435.7) rotate(-90)" text-anchor="middle" font-size="3.4" class="b" fill="#666">0</text>
<text transform="translate(151.9 435.7) rotate(-90)" text-anchor="middle" font-size="3.4" class="b" fill="#666">20</text>
<text transform="translate(140.0 435.7) rotate(-90)" text-anchor="middle" font-size="3.4" class="b" fill="#666">40</text>
<text transform="translate(128.1 435.7) rotate(-90)" text-anchor="middle" font-size="3.4" class="b" fill="#666">60</text>
<text transform="translate(116.2 435.7) rotate(-90)" text-anchor="middle" font-size="3.4" class="b" fill="#666">80</text>
<text transform="translate(104.3 435.7) rotate(-90)" text-anchor="middle" font-size="3.4" class="b" fill="#666">100</text>
<text transform="translate(92.4 435.7) rotate(-90)" text-anchor="middle" font-size="3.4" class="b" fill="#666">120</text>
<path d="M79 481.5L167 481.5" stroke="#999" stroke-width="0.5"/>
<path d="M166.8 481.3L166.8 484.1M163.2 481.3L163.2 482.8M159.5 481.3L159.5 482.8M155.9 481.3L155.9 482.8M152.2 481.3L152.2 482.8M148.6 481.3L148.6 482.8M145.0 481.3L145.0 482.8M141.3 481.3L141.3 482.8M137.7 481.3L137.7 482.8M134.0 481.3L134.0 482.8M130.4 481.3L130.4 484.1M126.8 481.3L126.8 482.8M123.1 481.3L123.1 482.8M119.5 481.3L119.5 482.8M115.8 481.3L115.8 482.8M112.2 481.3L112.2 482.8M108.6 481.3L108.6 482.8M104.9 481.3L104.9 482.8M101.3 481.3L101.3 482.8M97.6 481.3L97.6 482.8M94.0 481.3L94.0 484.1M90.4 481.3L90.4 482.8M86.7 481.3L86.7 482.8M83.1 481.3L83.1 482.8M79.4 481.3L79.4 482.8" stroke="#666" stroke-width="0.7"/>
<text transform="translate(164.4 493.1) rotate(-90)" text-anchor="middle" font-size="3.4" class="b" fill="#666">0</text>
<text transform="translate(128.5 493.1) rotate(-90)" text-anchor="middle" font-size="3.4" class="b" fill="#666">10</text>
<text transform="translate(91.8 493.1) rotate(-90)" text-anchor="middle" font-size="3.4" class="b" fill="#666">20</text>
<text x="180" y="370.8" class="acc">1</text>
<text x="187.2" y="370.8" class="acc" textLength="41.2" lengthAdjust="spacingAndGlyphs">NP_000363.1</text>
<text x="290.2" y="371.1" class="num" text-anchor="end">5740</text>
<text x="296.3" y="370.6" class="desc" textLength="78.3" lengthAdjust="spacingAndGlyphs">tyrosinase precursor [Homo sapiens]</text>
<text x="180" y="377.9" class="acc">8</text>
<text x="187.2" y="377.9" class="acc" textLength="52.1" lengthAdjust="spacingAndGlyphs">XP_002754751.1</text>
<text x="290.2" y="378.2" class="num" text-anchor="end">189</text>
<text x="296.3" y="377.7" class="desc" textLength="91.6" lengthAdjust="spacingAndGlyphs">PREDICTED: tyrosinase [Callithrix jacchus]</text>
<text x="180" y="385.0" class="acc">2</text>
<text x="187.2" y="385.0" class="acc" textLength="35.7" lengthAdjust="spacingAndGlyphs">AAA61244.1</text>
<text x="290.2" y="385.2" class="num" text-anchor="end">3507</text>
<text x="296.3" y="384.8" class="desc" textLength="55.1" lengthAdjust="spacingAndGlyphs">tyrosinase [Homo sapiens]</text>
<text x="180" y="392.1" class="acc">3</text>
<text x="187.2" y="392.1" class="acc" textLength="52.1" lengthAdjust="spacingAndGlyphs">XP_012497239.1</text>
<text x="290.2" y="392.4" class="num" text-anchor="end">3435</text>
<text x="296.3" y="391.9" class="desc" textLength="100.5" lengthAdjust="spacingAndGlyphs">PREDICTED: tyrosinase [Propithecus coquereli]</text>
<text x="180" y="399.2" class="acc">7</text>
<text x="187.2" y="399.2" class="acc" textLength="52.1" lengthAdjust="spacingAndGlyphs">XP_008702658.1</text>
<text x="290.2" y="399.4" class="num" text-anchor="end">233</text>
<text x="296.3" y="398.9" class="desc" textLength="90.2" lengthAdjust="spacingAndGlyphs">PREDICTED: tyrosinase [Ursus maritimus]</text>
<text x="180" y="406.3" class="acc">5</text>
<text x="187.2" y="406.3" class="acc" textLength="52.1" lengthAdjust="spacingAndGlyphs">XP_019810068.1</text>
<text x="290.2" y="406.6" class="num" text-anchor="end">2780</text>
<text x="296.3" y="406.1" class="desc" textLength="78.9" lengthAdjust="spacingAndGlyphs">PREDICTED: tyrosinase [Bos indicus]</text>
<text x="180" y="413.4" class="acc">4</text>
<text x="187.2" y="413.4" class="acc" textLength="52.1" lengthAdjust="spacingAndGlyphs">XP_011931019.1</text>
<text x="290.2" y="413.6" class="num" text-anchor="end">2947</text>
<text x="296.3" y="413.1" class="desc" textLength="89.7" lengthAdjust="spacingAndGlyphs">PREDICTED: tyrosinase [Cercocebus atys]</text>
<text x="180" y="420.5" class="acc">6</text>
<text x="187.2" y="420.5" class="acc" textLength="37.2" lengthAdjust="spacingAndGlyphs">AEO95517.1</text>
<text x="290.2" y="420.8" class="num" text-anchor="end">262</text>
<text x="296.3" y="420.2" class="desc" textLength="89.7" lengthAdjust="spacingAndGlyphs">tyrosinase, partial [Saccopteryx bilineata]</text>
<text x="187.2" y="458.8" class="acc" textLength="55.0" lengthAdjust="spacingAndGlyphs">WP_003210472.1</text>
<text x="290.2" y="459.0" class="num" text-anchor="end">246</text>
<text x="296.3" y="458.5" class="desc" textLength="113.6" lengthAdjust="spacingAndGlyphs">MULTISPECIES: alkaline phosphatase [Pseudomonas]</text>
<text x="180" y="471.8" class="acc">1</text>
<text x="187.2" y="471.8" class="acc" textLength="38.6" lengthAdjust="spacingAndGlyphs">OYU05701.1</text>
<text x="290.2" y="472.0" class="num" text-anchor="end">226</text>
<text x="296.3" y="471.5" class="desc" textLength="115.3" lengthAdjust="spacingAndGlyphs">phosphate-binding protein [Pseudomonas sp. PGPPP1]</text>
<text x="180" y="478.9" class="acc">2</text>
<text x="187.2" y="478.9" class="acc" textLength="55.0" lengthAdjust="spacingAndGlyphs">WP_016782943.1</text>
<text x="290.2" y="479.1" class="num" text-anchor="end">215</text>
<text x="296.3" y="478.6" class="desc" textLength="169.4" lengthAdjust="spacingAndGlyphs">phosphate ABC transporter substrate-binding protein PstS [Pseudomonas fragi]</text>
<text x="187.2" y="516.1" class="acc" textLength="37.4" lengthAdjust="spacingAndGlyphs">PCG68860.1</text>
<text x="290.2" y="516.3" class="num" text-anchor="end">221</text>
<text x="296.3" y="515.8" class="desc" textLength="115.3" lengthAdjust="spacingAndGlyphs">hypothetical protein B5V51_4799 [Heliothis virescens]</text>
<text x="187.2" y="529.3" class="acc" textLength="52.1" lengthAdjust="spacingAndGlyphs">XP_022831115.1</text>
<text x="290.2" y="529.5" class="num" text-anchor="end">176</text>
<text x="296.3" y="529.0" class="desc" textLength="148.3" lengthAdjust="spacingAndGlyphs">eukaryotic translation initiation factor 3 subunit D [Spodoptera litura]</text>
<text x="187.2" y="542.9" class="acc" textLength="25.3" lengthAdjust="spacingAndGlyphs">1Z6O_M</text>
<text x="290.2" y="543.1" class="num" text-anchor="end">152</text>
<text x="296.3" y="542.6" class="desc" textLength="132.9" lengthAdjust="spacingAndGlyphs">Chain M, Crystal Structure Of Trichoplusia Ni Secreted Ferritin</text>
</g></svg></body></html>
